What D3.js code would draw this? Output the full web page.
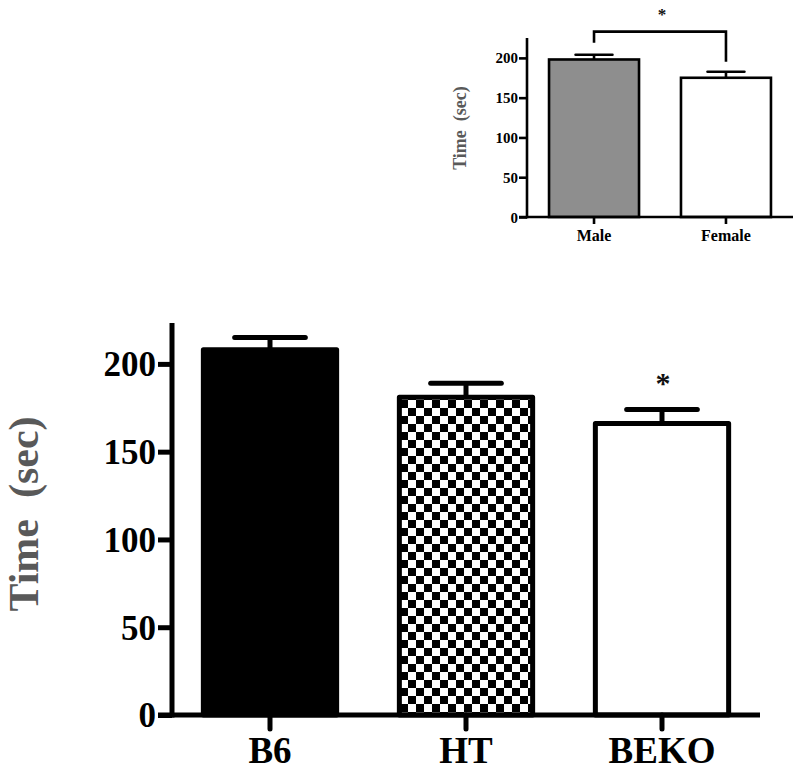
<!DOCTYPE html>
<html>
<head>
<meta charset="utf-8">
<script src="https://cdn.jsdelivr.net/npm/d3@7"></script>
<style>
html,body{margin:0;padding:0;background:#fff;}
svg{display:block;}
text{font-family:"Liberation Serif","Times New Roman",serif;font-weight:bold;}
</style>
</head>
<body>
<svg id="chart" width="800" height="771"></svg>
<script>
// Main chart data
const mainCategories = ["B6", "HT", "BEKO"];
const mainMeans = [208, 181, 166];
const mainSEM = [7, 8, 8];
const mainTicks = [0, 50, 100, 150, 200];
const mainSignificance = ["", "", "*"];

// Inset chart data
const insetCategories = ["Male", "Female"];
const insetMeans = [198, 175];
const insetSEM = [6, 7.5];
const insetTicks = [0, 50, 100, 150, 200];
const insetBracket = [219, 233, 195]; // left end, top, right end (value units)

const svg = d3.select("#chart");
const defs = svg.append("defs");
const pat = defs.append("pattern").attr("id", "checker")
  .attr("patternUnits", "userSpaceOnUse").attr("width", 16).attr("height", 16)
  .attr("x", 400).attr("y", 400);
pat.append("rect").attr("width", 16).attr("height", 16).attr("fill", "#fff");
pat.append("rect").attr("width", 8).attr("height", 8).attr("fill", "#000");
pat.append("rect").attr("x", 8).attr("y", 8).attr("width", 8).attr("height", 8).attr("fill", "#000");

// ---------- MAIN CHART ----------
(function(){
  const x0 = 172, x1 = 760, yBase = 715, yTop = 320;
  const x = d3.scaleBand().domain(mainCategories).range([x0, x1])
    .paddingInner(0.32).paddingOuter(0.16);
  const y = d3.scaleLinear().domain([0, 225]).range([yBase, yTop]);
  const fills = ["#000", "url(#checker)", "#fff"];
  const g = svg.append("g");
  const sw = 5;

  g.selectAll("rect.bar").data(mainCategories).enter().append("rect")
    .attr("class", "bar")
    .attr("x", d => x(d))
    .attr("y", (d, i) => y(mainMeans[i]))
    .attr("width", x.bandwidth())
    .attr("height", (d, i) => y(0) - y(mainMeans[i]))
    .attr("fill", (d, i) => fills[i])
    .attr("stroke", "#000").attr("stroke-width", sw)
    .attr("stroke-linejoin", "round");

  const capW = x.bandwidth() * 0.53;
  mainCategories.forEach((c, i) => {
    const cx = x(c) + x.bandwidth() / 2;
    g.append("line").attr("x1", cx).attr("x2", cx)
      .attr("y1", y(mainMeans[i])).attr("y2", y(mainMeans[i] + mainSEM[i]))
      .attr("stroke", "#000").attr("stroke-width", sw);
    g.append("line").attr("x1", cx - capW / 2).attr("x2", cx + capW / 2)
      .attr("y1", y(mainMeans[i] + mainSEM[i])).attr("y2", y(mainMeans[i] + mainSEM[i]))
      .attr("stroke", "#000").attr("stroke-width", sw).attr("stroke-linecap", "round");
    if (mainSignificance[i]) {
      g.append("text").attr("x", cx + 1).attr("y", y(mainMeans[i] + mainSEM[i]) - 17)
        .attr("text-anchor", "middle").attr("font-size", 30).attr("font-weight", "normal")
        .attr("fill", "#111").text(mainSignificance[i]);
    }
  });

  const yAxis = d3.axisLeft(y).tickValues(mainTicks).tickSize(14).tickPadding(2).tickSizeOuter(0);
  const ya = g.append("g").attr("transform", `translate(${x0},0)`).call(yAxis);
  ya.select(".domain").remove();
  ya.selectAll(".tick line").attr("stroke", "#000").attr("stroke-width", sw);
  ya.selectAll(".tick text").attr("font-size", 35).attr("fill", "#000")
    .attr("font-family", '"Liberation Serif",serif').attr("font-weight", "bold")
    .attr("dy", "0.34em");
  g.append("line").attr("x1", x0).attr("x2", x0).attr("y1", yTop + 3).attr("y2", yBase + sw / 2)
    .attr("stroke", "#000").attr("stroke-width", sw);

  const xAxis = d3.axisBottom(x).tickSize(14).tickPadding(8).tickSizeOuter(0);
  const xa = g.append("g").attr("transform", `translate(0,${yBase})`).call(xAxis);
  xa.select(".domain").remove();
  xa.selectAll(".tick line").attr("stroke", "#000").attr("stroke-width", 5).attr("stroke-linecap", "round");
  xa.selectAll(".tick text").attr("font-size", 37).attr("fill", "#000")
    .attr("font-family", '"Liberation Serif",serif').attr("font-weight", "bold");
  g.append("line").attr("x1", x0 - 14).attr("x2", x1).attr("y1", yBase).attr("y2", yBase)
    .attr("stroke", "#000").attr("stroke-width", sw);

  g.append("text").attr("transform", `translate(38,514) rotate(-90)`)
    .attr("text-anchor", "middle").attr("font-size", 42).attr("fill", "#595959")
    .style("white-space", "pre").text("Time  (sec)");
})();

// ---------- INSET CHART ----------
(function(){
  const x0 = 527, x1 = 793, yBase = 217, yTop = 38;
  const x = d3.scaleBand().domain(insetCategories).range([x0, x1])
    .paddingInner(0.318).paddingOuter(0.167);
  const y = d3.scaleLinear().domain([0, 225]).range([yBase, yTop]);
  const fills = ["#8e8e8e", "#fff"];
  const g = svg.append("g");
  const sw = 2.6;

  g.selectAll("rect.bar").data(insetCategories).enter().append("rect")
    .attr("x", d => x(d))
    .attr("y", (d, i) => y(insetMeans[i]))
    .attr("width", x.bandwidth())
    .attr("height", (d, i) => y(0) - y(insetMeans[i]))
    .attr("fill", (d, i) => fills[i])
    .attr("stroke", "#000").attr("stroke-width", sw);

  const capW = x.bandwidth() * 0.41;
  insetCategories.forEach((c, i) => {
    const cx = x(c) + x.bandwidth() / 2;
    g.append("line").attr("x1", cx).attr("x2", cx)
      .attr("y1", y(insetMeans[i])).attr("y2", y(insetMeans[i] + insetSEM[i]))
      .attr("stroke", "#000").attr("stroke-width", sw);
    g.append("line").attr("x1", cx - capW / 2).attr("x2", cx + capW / 2)
      .attr("y1", y(insetMeans[i] + insetSEM[i])).attr("y2", y(insetMeans[i] + insetSEM[i]))
      .attr("stroke", "#000").attr("stroke-width", sw).attr("stroke-linecap", "round");
  });

  const cL = x(insetCategories[0]) + x.bandwidth() / 2;
  const cR = x(insetCategories[1]) + x.bandwidth() / 2;
  g.append("path")
    .attr("d", `M${cL},${y(insetBracket[0])}V${y(insetBracket[1])}H${cR}V${y(insetBracket[2])}`)
    .attr("fill", "none").attr("stroke", "#000").attr("stroke-width", sw);
  g.append("text").attr("x", (cL + cR) / 2 + 2).attr("y", y(insetBracket[1]) - 12)
    .attr("text-anchor", "middle").attr("font-size", 17).attr("font-weight", "normal")
    .attr("fill", "#111").text("*");

  const yAxis = d3.axisLeft(y).tickValues(insetTicks).tickSize(8).tickPadding(1).tickSizeOuter(0);
  const ya = g.append("g").attr("transform", `translate(${x0},0)`).call(yAxis);
  ya.select(".domain").remove();
  ya.selectAll(".tick line").attr("stroke", "#000").attr("stroke-width", sw);
  ya.selectAll(".tick text").attr("font-size", 15).attr("fill", "#000")
    .attr("font-family", '"Liberation Serif",serif').attr("font-weight", "bold")
    .attr("dy", "0.34em");
  g.append("line").attr("x1", x0).attr("x2", x0).attr("y1", yTop).attr("y2", yBase + sw / 2)
    .attr("stroke", "#000").attr("stroke-width", sw);

  const xAxis = d3.axisBottom(x).tickSize(7).tickPadding(6).tickSizeOuter(0);
  const xa = g.append("g").attr("transform", `translate(0,${yBase})`).call(xAxis);
  xa.select(".domain").remove();
  xa.selectAll(".tick line").attr("stroke", "#000").attr("stroke-width", sw);
  xa.selectAll(".tick text").attr("font-size", 16).attr("fill", "#000")
    .attr("font-family", '"Liberation Serif",serif').attr("font-weight", "bold");
  g.append("line").attr("x1", x0 - 8).attr("x2", x1).attr("y1", yBase).attr("y2", yBase)
    .attr("stroke", "#000").attr("stroke-width", sw);

  g.append("text").attr("transform", `translate(466,128) rotate(-90)`)
    .attr("text-anchor", "middle").attr("font-size", 18).attr("fill", "#595959")
    .style("white-space", "pre").text("Time  (sec)");
})();
</script>
</body>
</html>
